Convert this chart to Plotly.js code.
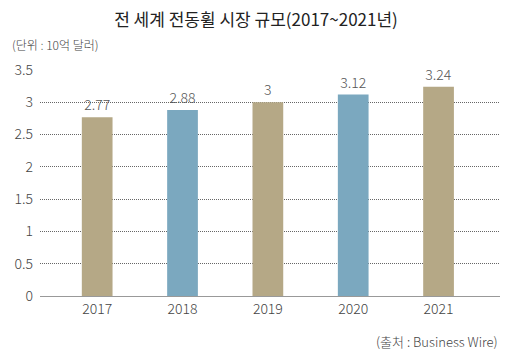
<!DOCTYPE html>
<html><head><meta charset="utf-8">
<script src="https://cdn.plot.ly/plotly-3.0.1.min.js"></script>
<style>html,body{margin:0;padding:0;background:#fff}#c{width:512px;height:356px}</style>
</head><body><div id="c"></div>
<script>
const years = ['2017','2018','2019','2020','2021'];
const values = [2.77, 2.88, 3, 3.12, 3.24];
const valueLabels = ['2.77','2.88','3','3.12','3.24'];
const barColors = ['#b5a886','#7ba8bf','#b5a886','#7ba8bf','#b5a886'];
const yTicks = [0,0.5,1,1.5,2,2.5,3,3.5];
const yTickText = ['0','0.5','1','1.5','2','2.5','3','3.5'];
const F = '"Noto Sans CJK KR", "Noto Sans", sans-serif';
const data = [{
  type:'bar', x:[0,1,2,3,4], y:values, width:0.36,
  marker:{color:barColors},
  text:valueLabels, textposition:'outside', cliponaxis:false,
  textfont:{family:F,size:14,color:'#555',weight:300}, hoverinfo:'none'
}];
const layout = {
  width:512, height:356,
  margin:{l:40,r:12,t:70,b:60},
  paper_bgcolor:'#fff', plot_bgcolor:'#fff',
  showlegend:false,
  title:{text:'전 세계 전동휠 시장 규모(2017~2021년)', font:{family:F,size:17,color:'#222'}, x:0.5, xanchor:'center', y:0.945, yanchor:'middle'},
  xaxis:{range:[-0.67,4.72], tickvals:[0,1,2,3,4], ticktext:years, showgrid:false, zeroline:false,
    showline:true, linecolor:'#999', linewidth:1, ticks:'', tickfont:{family:F,size:14,color:'#444',weight:300}, fixedrange:true},
  yaxis:{range:[0,3.5], tickvals:yTicks, ticktext:yTickText, showgrid:true, gridcolor:'#666', griddash:'1px,1px', gridwidth:1,
    zeroline:false, showline:false, ticks:'', ticklabelstandoff:6, tickfont:{family:F,size:14,color:'#444',weight:300}, fixedrange:true},
  annotations:[
    {text:'(단위 : 10억 달러)', xref:'paper', yref:'paper', x:-0.065, y:1.115, xanchor:'left', yanchor:'middle', showarrow:false, font:{family:F,size:12,color:'#444',weight:300}},
    {text:'(출처 : Business Wire)', xref:'paper', yref:'paper', x:1.0, y:-0.2, xanchor:'right', yanchor:'middle', showarrow:false, font:{family:F,size:13,color:'#444',weight:300}}
  ]
};
Plotly.newPlot('c', data, layout, {staticPlot:true, displayModeBar:false});
</script></body></html>
